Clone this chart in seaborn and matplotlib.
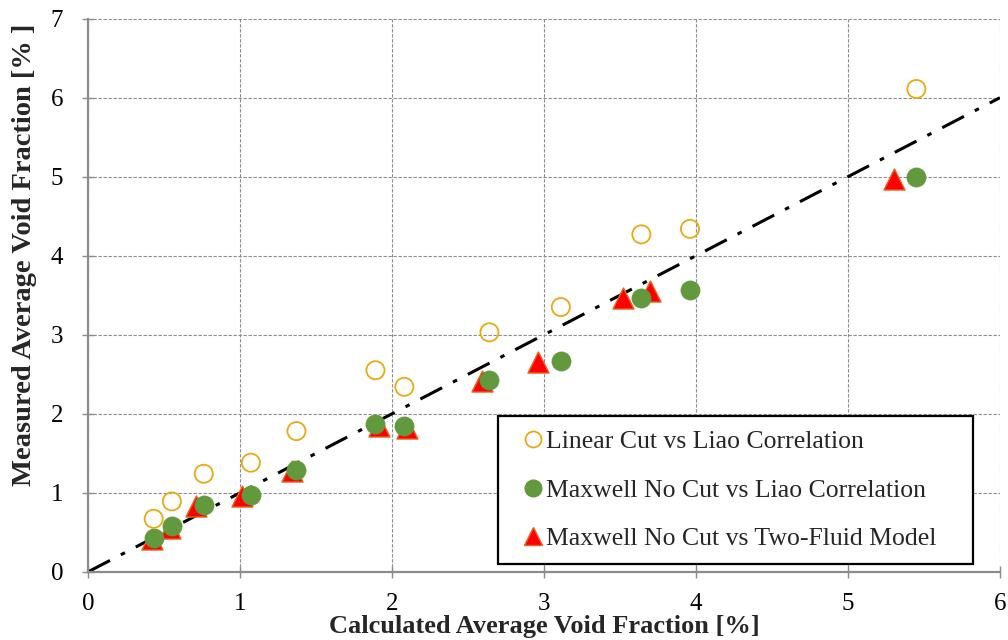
import numpy as np
import pandas as pd
import matplotlib
matplotlib.use("Agg")
import matplotlib.pyplot as plt
import seaborn as sns
from matplotlib.lines import Line2D

# Data
linear_x = [0.43, 0.55, 0.76, 1.07, 1.37, 1.89, 2.08, 2.64, 3.11, 3.64, 3.96, 5.45]
linear_y = [0.67, 0.89, 1.24, 1.38, 1.78, 2.55, 2.34, 3.03, 3.35, 4.27, 4.34, 6.11]

maxwell_x = [0.43, 0.55, 0.76, 1.07, 1.37, 1.89, 2.08, 2.64, 3.11, 3.64, 3.96, 5.45]
maxwell_y = [0.43, 0.58, 0.84, 0.97, 1.29, 1.87, 1.84, 2.43, 2.67, 3.47, 3.56, 4.99]

twofluid_x = [0.42, 0.54, 0.71, 1.01, 1.34, 1.91, 2.10, 2.59, 2.96, 3.52, 3.70, 5.30]
twofluid_y = [0.42, 0.55, 0.83, 0.96, 1.28, 1.85, 1.82, 2.42, 2.66, 3.46, 3.55, 4.97]

labels = ["Linear Cut vs Liao Correlation",
          "Maxwell No Cut vs Liao Correlation",
          "Maxwell No Cut vs Two-Fluid Model"]
x_ticks = [0, 1, 2, 3, 4, 5, 6]
y_ticks = [0, 1, 2, 3, 4, 5, 6, 7]
line_x = [0, 6]
line_y = [0, 6]

sns.set_theme(style="white")
plt.rcParams['font.family'] = ['Liberation Serif', 'DejaVu Serif']

fig = plt.figure(figsize=(10.08, 6.4), dpi=100)
ax = fig.add_axes([0.0876, 0.1067, 0.9044, 0.8641])

df_lin = pd.DataFrame({"x": linear_x, "y": linear_y})
df_max = pd.DataFrame({"x": maxwell_x, "y": maxwell_y})
df_two = pd.DataFrame({"x": twofluid_x, "y": twofluid_y})

ax.plot(line_x, line_y, color="black", lw=2.2, linestyle=(0, (8, 4, 1.5, 4)), zorder=2)

sns.scatterplot(data=df_two, x="x", y="y", ax=ax, marker="^", s=230,
                color="#FF0000", edgecolor="#E8641E", linewidth=1.0, zorder=3)
sns.scatterplot(data=df_max, x="x", y="y", ax=ax, marker="o", s=190,
                color="#63993D", edgecolor="#63993D", linewidth=0.5, zorder=4)
sns.scatterplot(data=df_lin, x="x", y="y", ax=ax, marker="o", s=170,
                facecolor="none", edgecolor="#E8AA14", linewidth=1.3, zorder=5)

ax.set_xlim(0, 6)
ax.set_ylim(0, 7)
ax.set_xticks(x_ticks)
ax.set_yticks(y_ticks)
ax.set_xticklabels([str(t) for t in x_ticks], fontsize=18)
ax.set_yticklabels([str(t) for t in y_ticks], fontsize=18)

ax.grid(True, color="#8C8C8C", linestyle=(0, (3, 1.5)), linewidth=0.8)
for side in ["top", "right"]:
    ax.spines[side].set_visible(False)
for side in ["left", "bottom"]:
    ax.spines[side].set_color("#8C8C8C")
    ax.spines[side].set_linewidth(1.6)
ax.tick_params(axis="both", which="major", direction="inout", length=8,
               width=1, color="#8C8C8C", labelcolor="black",
               left=True, bottom=True)
ax.tick_params(axis="x", pad=11)
ax.tick_params(axis="y", pad=14)

ax.set_xlabel("Calculated Average Void Fraction [%]", fontsize=19,
              fontweight="bold", labelpad=0)
ax.set_ylabel("Measured Average Void Fraction [% ]", fontsize=20.5,
              fontweight="bold")
ax.yaxis.set_label_coords(-0.0565, 0.573)

handles = [
    Line2D([], [], linestyle="none", marker="o", markersize=11.5,
           markerfacecolor="none", markeredgecolor="#E8AA14", markeredgewidth=1.3),
    Line2D([], [], linestyle="none", marker="o", markersize=12,
           markerfacecolor="#63993D", markeredgecolor="#63993D"),
    Line2D([], [], linestyle="none", marker="^", markersize=13,
           markerfacecolor="#FF0000", markeredgecolor="#E8641E"),
]
leg = ax.legend(handles, labels, loc="upper left",
                bbox_to_anchor=(0.449, 0.0, 0.521, 0.2816), mode="expand",
                fontsize=18.5, frameon=True, fancybox=False, framealpha=1,
                edgecolor="black", labelspacing=0.99, handlelength=1.68,
                handletextpad=-0.33, borderpad=0.55, borderaxespad=0)
leg.get_frame().set_linewidth(1.6)
leg.set_zorder(10)

fig.savefig("out.png", dpi=100)
